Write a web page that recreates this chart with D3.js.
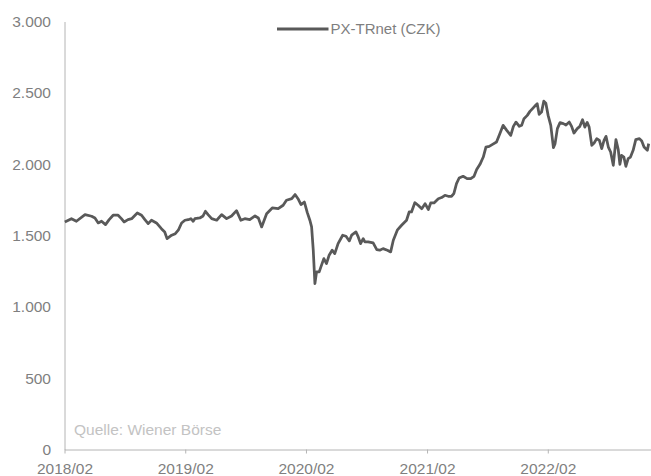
<!DOCTYPE html>
<html>
<head>
<meta charset="utf-8">
<script src="https://cdn.jsdelivr.net/npm/d3@7"></script>
<style>
  html, body { margin: 0; padding: 0; background: #fff; }
  svg { display: block; font-family: "Liberation Sans", Arial, sans-serif; }
</style>
</head>
<body>
<svg id="chart" width="651" height="476"></svg>
<script>
// PX-TRnet (CZK) index closes
const dates = [
  "2018-02-02","2018-02-22","2018-03-09","2018-04-04","2018-04-24","2018-05-04","2018-05-14","2018-05-24",
  "2018-06-05","2018-06-16","2018-06-28","2018-07-13","2018-07-23","2018-07-31","2018-08-12","2018-08-23",
  "2018-09-09","2018-09-22","2018-10-02","2018-10-12","2018-10-22","2018-11-06","2018-11-21","2018-12-01",
  "2018-12-08","2018-12-22","2019-01-02","2019-01-11","2019-01-21","2019-01-31","2019-02-10","2019-02-18",
  "2019-02-25","2019-03-02","2019-03-17","2019-03-27","2019-04-03","2019-04-11","2019-04-22","2019-05-07",
  "2019-05-22","2019-06-06","2019-06-21","2019-07-06","2019-07-19","2019-07-31","2019-08-15","2019-08-31",
  "2019-09-10","2019-09-20","2019-10-05","2019-10-22","2019-11-09","2019-11-24","2019-12-04","2019-12-20",
  "2019-12-30","2020-01-09","2020-01-17","2020-01-27","2020-02-05","2020-02-13","2020-02-18","2020-02-23",
  "2020-02-28","2020-03-04","2020-03-12","2020-03-19","2020-03-26","2020-04-03","2020-04-11","2020-04-20",
  "2020-04-28","2020-05-08","2020-05-22","2020-06-01","2020-06-11","2020-06-18","2020-07-01","2020-07-08",
  "2020-07-15","2020-07-23","2020-07-28","2020-08-07","2020-08-22","2020-09-02","2020-09-11","2020-09-21",
  "2020-10-04","2020-10-14","2020-10-22","2020-11-03","2020-11-16","2020-12-01","2020-12-09","2020-12-16",
  "2020-12-26","2021-01-05","2021-01-16","2021-01-26","2021-02-05","2021-02-12","2021-02-22","2021-03-07",
  "2021-03-17","2021-03-27","2021-04-06","2021-04-16","2021-04-23","2021-05-01","2021-05-09","2021-05-21",
  "2021-06-02","2021-06-13","2021-06-23","2021-07-01","2021-07-11","2021-07-21","2021-07-29","2021-08-08",
  "2021-08-18","2021-08-30","2021-09-09","2021-09-19","2021-09-30","2021-10-12","2021-10-20","2021-10-28",
  "2021-11-07","2021-11-14","2021-11-21","2021-12-01","2021-12-09","2021-12-19","2021-12-27","2021-12-31",
  "2022-01-06","2022-01-13","2022-01-20","2022-01-26","2022-02-02","2022-02-10","2022-02-18","2022-02-23",
  "2022-03-02","2022-03-10","2022-03-20","2022-03-28","2022-04-07","2022-04-14","2022-04-21","2022-05-01",
  "2022-05-09","2022-05-17","2022-05-24","2022-05-31","2022-06-06","2022-06-14","2022-06-21","2022-06-29",
  "2022-07-07","2022-07-14","2022-07-21","2022-07-27","2022-08-03","2022-08-10","2022-08-18","2022-08-26",
  "2022-09-02","2022-09-07","2022-09-12","2022-09-19","2022-09-25","2022-10-02","2022-10-09","2022-10-17",
  "2022-10-25","2022-11-05","2022-11-12","2022-11-19","2022-11-29","2022-12-03"
];
const closes = [
  1595,1618,1600,1646,1635,1623,1588,1600,
  1576,1611,1642,1642,1618,1595,1611,1618,
  1658,1642,1611,1583,1607,1588,1548,1525,
  1478,1502,1513,1537,1588,1607,1611,1618,
  1600,1618,1623,1637,1670,1646,1618,1607,
  1646,1618,1637,1674,1607,1618,1611,1637,
  1623,1560,1653,1693,1688,1712,1747,1758,
  1787,1754,1717,1735,1660,1605,1560,1397,
  1163,1245,1245,1292,1338,1303,1362,1397,
  1373,1443,1502,1495,1462,1502,1525,1490,
  1443,1478,1455,1455,1448,1401,1397,1408,
  1397,1385,1467,1537,1572,1607,1665,1665,
  1730,1712,1688,1723,1682,1728,1728,1758,
  1766,1782,1775,1775,1794,1864,1903,1915,
  1899,1899,1915,1962,1999,2050,2120,2125,
  2139,2155,2214,2272,2237,2202,2265,2295,
  2265,2272,2319,2342,2370,2395,2415,2424,
  2349,2365,2442,2428,2342,2272,2116,2144,
  2249,2291,2284,2274,2295,2265,2218,2249,
  2265,2312,2260,2293,2260,2132,2148,2179,
  2167,2109,2167,2195,2120,2085,1992,2172,
  2102,1999,2062,2050,1985,2039,2050,2097,
  2172,2179,2162,2120,2097,2144
];

const seriesName = "PX-TRnet (CZK)";
const sourceNote = "Quelle: Wiener Börse";
const xTickLabels = ["2018/02", "2019/02", "2020/02", "2021/02", "2022/02"];
const yTickValues = [0, 500, 1000, 1500, 2000, 2500, 3000];

const parseDay = d3.timeParse("%Y-%m-%d");
const parseTick = d3.timeParse("%Y/%m");
const points = dates.map((d, i) => ({ date: parseDay(d), value: closes[i] }));

const deLocale = d3.formatLocale({ decimal: ",", thousands: ".", grouping: [3], currency: ["", " €"] });
const fmtY = deLocale.format(",d");

const svg = d3.select("#chart");
const axisColor = "#b4b4b4";
const textColor = "#7f7f7f";

const x = d3.scaleTime()
  .domain([parseDay("2018-02-01"), parseDay("2022-12-10")])
  .range([64.5, 651]);
const y = d3.scaleLinear()
  .domain([0, 3000])
  .range([449.5, 21.5]);

// y axis: line only, labels to the left
const gy = svg.append("g")
  .attr("transform", "translate(64.5,0)")
  .call(d3.axisLeft(y).tickValues(yTickValues).tickFormat(fmtY).tickSize(0).tickPadding(13.5));
gy.select(".domain").attr("stroke", axisColor).attr("stroke-width", 1);
gy.selectAll("text").attr("fill", textColor).style("font-size", "15.5px");

// x axis with short outward ticks
const gx = svg.append("g")
  .attr("transform", "translate(0,449.5)")
  .call(d3.axisBottom(x)
    .tickValues(xTickLabels.map(parseTick))
    .tickFormat(d3.timeFormat("%Y/%m"))
    .tickSizeInner(4).tickSizeOuter(0).tickPadding(9));
gx.select(".domain").attr("stroke", axisColor).attr("stroke-width", 1);
gx.selectAll(".tick line").attr("stroke", axisColor).attr("stroke-width", 1);
gx.selectAll("text").attr("fill", textColor).style("font-size", "15.5px");

// index line
const line = d3.line().x(d => x(d.date)).y(d => y(d.value));
svg.append("path")
  .datum(points)
  .attr("fill", "none")
  .attr("stroke", "#595959")
  .attr("stroke-width", 2.75)
  .attr("stroke-linejoin", "round")
  .attr("d", line);

// legend
const legend = svg.append("g");
legend.append("line")
  .attr("x1", 277).attr("x2", 328.5).attr("y1", 29).attr("y2", 29)
  .attr("stroke", "#595959").attr("stroke-width", 3);
legend.append("text")
  .attr("x", 330.5).attr("y", 29).attr("dy", "0.35em")
  .attr("fill", textColor).style("font-size", "15px")
  .text(seriesName);

// source note
svg.append("text")
  .attr("x", 74).attr("y", 430).attr("dy", "0.35em")
  .attr("fill", "#c3c3c3").style("font-size", "15.5px")
  .text(sourceNote);
</script>
</body>
</html>
